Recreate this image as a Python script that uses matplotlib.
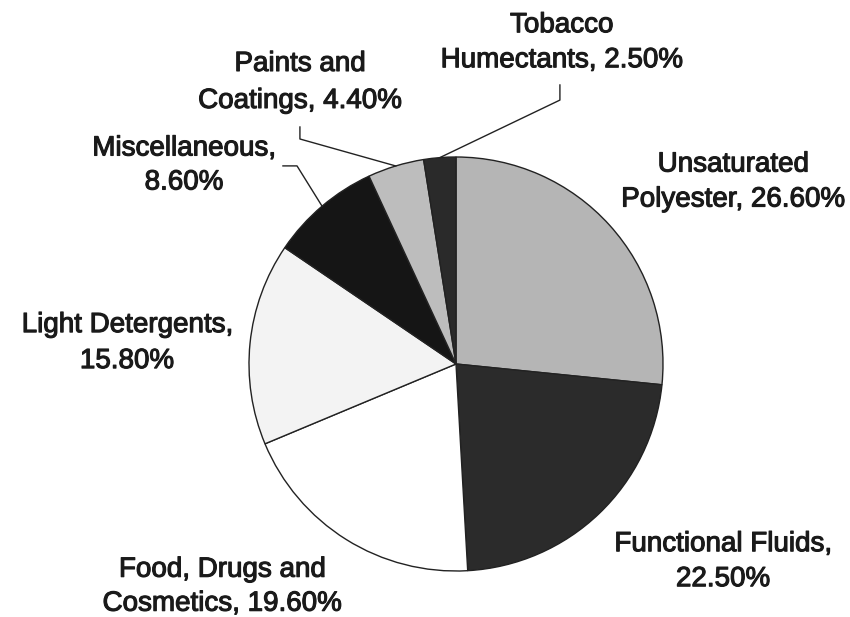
import numpy as np
import matplotlib
matplotlib.use("Agg")
import matplotlib.pyplot as plt
import matplotlib.patheffects as pe

plt.rcParams['font.family'] = ['Liberation Sans', 'DejaVu Sans']

# Market share data
names = ['Unsaturated\nPolyester', 'Functional Fluids,\n', 'Food, Drugs and\nCosmetics',
         'Light Detergents,\n', 'Miscellaneous,\n', 'Paints and\nCoatings',
         'Tobacco\nHumectants']
shares = [26.6, 22.5, 19.6, 15.8, 8.6, 4.4, 2.5]
colors = ['#b5b5b5', '#2b2b2b', '#ffffff', '#f3f3f3', '#151515', '#bdbdbd', '#2a2a2a']

# label layout (data units, pie radius = 1)
label_x = [1.338, 1.290, -1.130, -1.589, -1.314, -0.754, 0.510]
label_y = [0.879, -0.955, -1.076, 0.101, 0.959, 1.360, 1.552]
line_sp = [1.45, 1.45, 1.40, 1.50, 1.40, 1.55, 1.45]
# leader lines: index -> (start, elbow)
leaders = {4: [(-0.836, 0.957), (-0.768, 0.957)],
           5: [(-0.754, 1.145), (-0.754, 1.087)],
           6: [(0.502, 1.348), (0.502, 1.275)]}

W, H = 850, 617
cx, cy, R = 456, 364, 207  # pie centre / radius in pixels

fig = plt.figure(figsize=(W / 100, H / 100), dpi=100)
ax = fig.add_axes([0, 0, 1, 1])

ax.pie(shares, colors=colors, startangle=90, counterclock=False, radius=1,
       wedgeprops=dict(edgecolor='#222222', linewidth=1.0))
ax.set_aspect('auto')
ax.set_xlim(-cx / R, (W - cx) / R)
ax.set_ylim(-(H - cy) / R, cy / R)
ax.axis('off')

cum = np.cumsum([0] + shares[:-1])
for i, (nm, v) in enumerate(zip(names, shares)):
    if nm.endswith('\n'):
        txt = nm + '%.2f%%' % v
    else:
        txt = nm + ', %.2f%%' % v
    ax.text(label_x[i], label_y[i], txt, ha='center', va='center',
            fontsize=20, color='#1a1a1a', linespacing=line_sp[i],
            path_effects=[pe.withStroke(linewidth=0.8, foreground='#1a1a1a')])
    if i in leaders:
        ang = np.deg2rad(90 - 360 * (cum[i] + v / 2) / 100)
        pts = leaders[i] + [(np.cos(ang), np.sin(ang))]
        ax.plot([p[0] for p in pts], [p[1] for p in pts], color='#222222', lw=1.0)

fig.savefig('out.png', dpi=100, facecolor='white')
